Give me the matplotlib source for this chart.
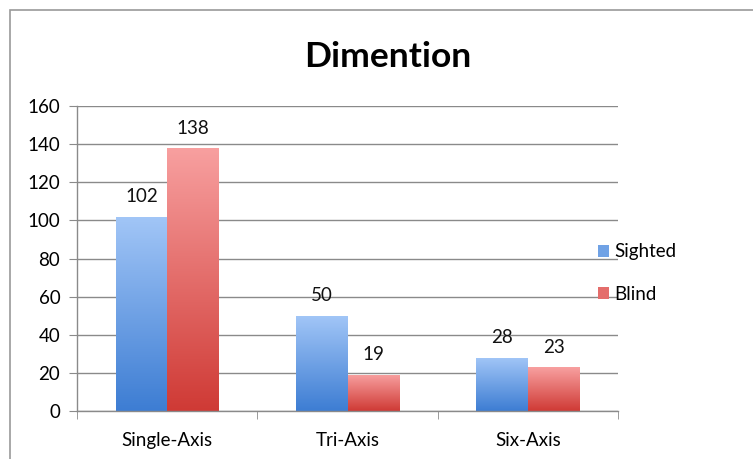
import matplotlib
matplotlib.use("Agg")
import matplotlib.pyplot as plt
import numpy as np
from matplotlib.colors import LinearSegmentedColormap
from matplotlib.patches import Rectangle

categories = ["Single-Axis", "Tri-Axis", "Six-Axis"]
series_names = ["Sighted", "Blind"]
sighted = [102, 50, 28]
blind = [138, 19, 23]
yticks = [0, 20, 40, 60, 80, 100, 120, 140, 160]

plt.rcParams['font.family'] = ['Lato', 'DejaVu Sans']
FS = 13.5

fig = plt.figure(figsize=(7.53, 4.59), dpi=100)
ax = fig.add_axes([77/753, 1-411/459, (618-77)/753, (411-106)/459])

# frame around chart
fig.patches.append(Rectangle((10/753, -0.1), 1.2, 1 - 10/459 + 0.1, transform=fig.transFigure,
                             fill=False, edgecolor='#9a9a9a', linewidth=1.2))

x = np.arange(len(categories))
w = 1 / 3.5
cmaps = [
    LinearSegmentedColormap.from_list('b', ['#3d7dd3', '#a2c6f7']),
    LinearSegmentedColormap.from_list('r', ['#cf3a35', '#f8a0a0']),
]
grad = np.linspace(0, 1, 256).reshape(-1, 1)
for i, (vals, name, cm) in enumerate(zip([sighted, blind], series_names, cmaps)):
    bars = ax.bar(x + (i - 0.5) * w, vals, w, color=cm(0.5), label=name, zorder=2)
    for b, v in zip(bars, vals):
        x0, y0 = b.get_x(), b.get_y()
        bw, bh = b.get_width(), b.get_height()
        im = ax.imshow(grad, extent=(x0, x0 + bw, y0, y0 + bh), origin='lower',
                       cmap=cm, aspect='auto', zorder=2.5)
        im.set_clip_path(b)
        b.set_facecolor('none')
        ax.text(x0 + bw / 2, v + 6, str(v), ha='center', va='bottom', fontsize=FS, color='#111111')

ax.set_xlim(-0.5, len(categories) - 0.5)
ax.set_ylim(0, 160)
ax.set_yticks(yticks)
ax.set_yticklabels([str(t) for t in yticks], fontsize=FS)
ax.set_xticks(x)
ax.set_xticklabels(categories, fontsize=FS)
ax.set_xticks(np.arange(len(categories) + 1) - 0.5, minor=True)
ax.tick_params(axis='x', which='major', length=0, pad=15)
ax.tick_params(axis='x', which='minor', length=6, color='#8a8a8a', direction='out')
ax.tick_params(axis='y', length=6, color='#8a8a8a', direction='out', pad=6)
ax.yaxis.grid(True, color='#8a8a8a', linewidth=1.0, zorder=0)
ax.set_axisbelow(True)
for s in ['top', 'right']:
    ax.spines[s].set_visible(False)
for s in ['left', 'bottom']:
    ax.spines[s].set_color('#8a8a8a')
    ax.spines[s].set_linewidth(1.0)

fig.text(388/753, 1 - 57/459, "Dimention", ha='center', va='center', fontsize=25.5, fontweight='bold')

handles = [Rectangle((0, 0), 1, 1, facecolor=cm(0.5), edgecolor='none') for cm in cmaps]
leg = fig.legend(handles, series_names, loc='center left', bbox_to_anchor=(581/753, 1 - 273/459),
                 frameon=False, fontsize=FS, handlelength=0.6, handleheight=0.6,
                 handletextpad=0.3, labelspacing=1.35)

fig.savefig("out.png", dpi=100)
